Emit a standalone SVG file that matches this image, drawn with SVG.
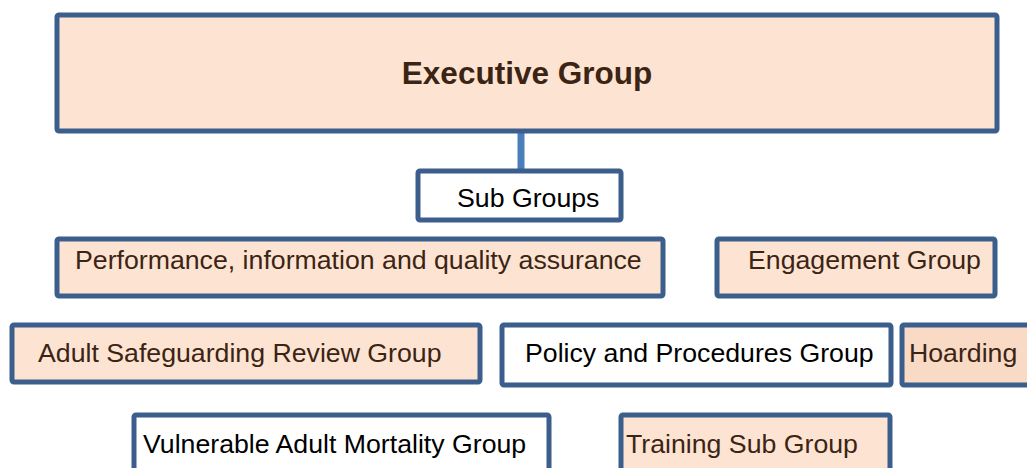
<svg xmlns="http://www.w3.org/2000/svg" width="1027" height="468" viewBox="0 0 1027 468">
<style>
.box{stroke:#3B5E8C;stroke-width:5;}
.peach{fill:#FDE4D2;}
.peach2{fill:#F8DAC5;}
.white{fill:#FFFFFF;}
.t{font-family:"Liberation Sans",Arial,sans-serif;font-size:26.7px;}
.brown{fill:#3C2415;}
.black{fill:#000000;}
.bold{font-weight:bold;font-size:31.5px;}
.conn{stroke:#4A7EBB;stroke-width:7;fill:none;}
</style>
<rect width="1027" height="468" fill="#FFFFFF"/>
<g id="connectors">
<line class="conn" x1="521" y1="133" x2="521" y2="170"/>
</g>
<g id="executive">
<rect class="box peach" x="57" y="15" width="940" height="116" rx="2"/>
<text class="t bold brown" x="527" y="84" text-anchor="middle">Executive Group</text>
</g>
<g id="subgroups">
<rect class="box white" x="418" y="171" width="203" height="49" rx="2"/>
<text class="t black" x="457" y="207">Sub Groups</text>
</g>
<g id="performance">
<rect class="box peach" x="57" y="239" width="606" height="57" rx="2"/>
<text class="t brown" x="75" y="269">Performance, information and quality assurance</text>
</g>
<g id="engagement">
<rect class="box peach" x="717" y="239" width="278" height="57" rx="2"/>
<text class="t brown" x="748" y="269">Engagement Group</text>
</g>
<g id="adult-safeguarding">
<rect class="box peach" x="12" y="325" width="468" height="57" rx="2"/>
<text class="t brown" x="38" y="362">Adult Safeguarding Review Group</text>
</g>
<g id="policy">
<rect class="box white" x="502" y="325" width="389" height="60" rx="2"/>
<text class="t black" x="525" y="362">Policy and Procedures Group</text>
</g>
<g id="hoarding">
<rect class="box peach2" x="902" y="325" width="140" height="60" rx="2"/>
<text class="t brown" x="909" y="362">Hoarding</text>
</g>
<g id="vulnerable">
<rect class="box white" x="134" y="415" width="415" height="70" rx="2"/>
<text class="t black" x="143" y="453">Vulnerable Adult Mortality Group</text>
</g>
<g id="training">
<rect class="box peach" x="621" y="415" width="269" height="70" rx="2"/>
<text class="t brown" x="626" y="453">Training Sub Group</text>
</g>
</svg>
